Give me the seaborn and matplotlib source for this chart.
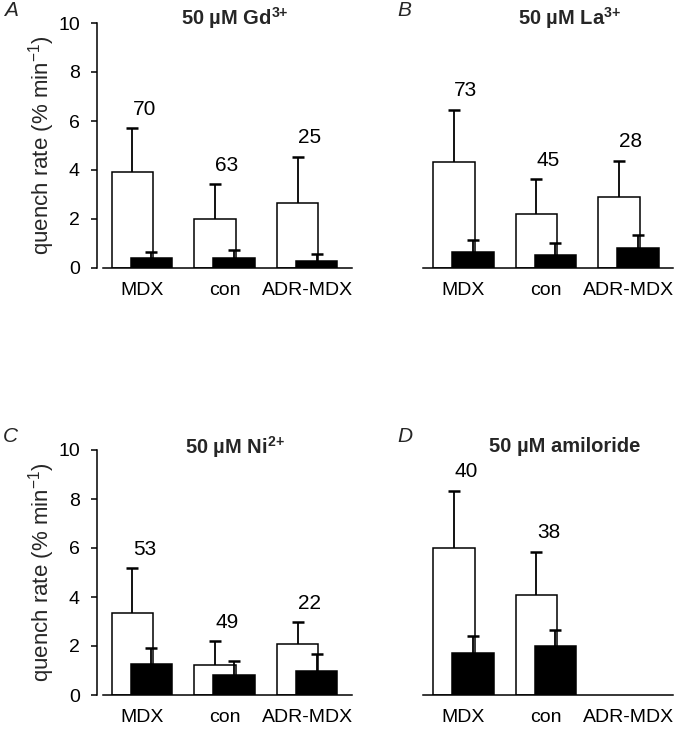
import numpy as np
import matplotlib
matplotlib.use("Agg")
import matplotlib.pyplot as plt
import seaborn as sns

# ---------------- data ----------------
groups = ["MDX", "con", "ADR-MDX"]
panel_letters = ["A", "B", "C", "D"]
panel_titles = [r"50 µM Gd$^{\mathbf{3{+}}}$", r"50 µM La$^{\mathbf{3{+}}}$",
                r"50 µM Ni$^{\mathbf{2{+}}}$", "50 µM amiloride"]

# open bars (mean) and upper error
A_open = [3.90, 2.00, 2.64]
A_open_err = [1.81, 1.42, 1.90]
A_filled = [0.40, 0.40, 0.29]
A_filled_err = [0.27, 0.33, 0.28]
A_n = ["70", "63", "25"]

B_open = [4.31, 2.19, 2.91]
B_open_err = [2.14, 1.44, 1.46]
B_filled = [0.64, 0.53, 0.83]
B_filled_err = [0.50, 0.48, 0.52]
B_n = ["73", "45", "28"]

C_open = [3.35, 1.24, 2.09]
C_open_err = [1.83, 0.95, 0.87]
C_filled = [1.28, 0.83, 1.00]
C_filled_err = [0.62, 0.54, 0.69]
C_n = ["53", "49", "22"]

D_open = [6.00, 4.09, np.nan]
D_open_err = [2.34, 1.75, np.nan]
D_filled = [1.71, 2.02, np.nan]
D_filled_err = [0.71, 0.62, np.nan]
D_n = ["40", "38", ""]

ylabel = r"quench rate (% min$^{-1}$)"
yticks = [0, 2, 4, 6, 8, 10]

# ---------------- style ----------------
sns.set_theme(style="ticks")
plt.rcParams["font.family"] = ["Liberation Sans", "DejaVu Sans"]
plt.rcParams["mathtext.fontset"] = "custom"
plt.rcParams["mathtext.rm"] = "Liberation Sans"
plt.rcParams["mathtext.it"] = "Liberation Sans:italic"
plt.rcParams["mathtext.bf"] = "Liberation Sans:bold"

W, H = 681, 729
fig = plt.figure(figsize=(W / 100, H / 100), dpi=100)
fig.patch.set_facecolor("white")


def fx(px):
    return px / W


def fy(py):
    return 1 - py / H


def make_ax(left, right, top, bottom):
    return fig.add_axes([fx(left), fy(bottom), fx(right) - fx(left), fy(top) - fy(bottom)])


panels = [
    (A_open, A_open_err, A_filled, A_filled_err, A_n),
    (B_open, B_open_err, B_filled, B_filled_err, B_n),
    (C_open, C_open_err, C_filled, C_filled_err, C_n),
    (D_open, D_open_err, D_filled, D_filled_err, D_n),
]

layout = [
    # left, right, top, bottom, xlim, has_yaxis
    (97, 352, 23, 268, (-0.545, 2.545), True),
    (423, 673, 23, 268, (-0.49, 2.54), False),
    (97, 352, 450, 695, (-0.545, 2.545), True),
    (423, 673, 450, 695, (-0.49, 2.54), False),
]
title_pos = [(235, 18), (570, 18), (235, 447), (565, 447)]
letter_pos = [(4, 11), (397, 11), (3, 437), (397, 437)]

off = 0.115
bw = 0.5
lw = 1.1
xc = np.arange(len(groups))


def upper_err(ax, x, y, e, z):
    _, caps, _ = ax.errorbar(x, y, yerr=[np.zeros_like(e), e], fmt="none",
                             ecolor="black", elinewidth=1.3, capsize=4,
                             capthick=1.8, zorder=z)
    caps[0].set_visible(False)


for i, ((op, ope, fi, fie, ns), (l, r, t, b, xl, has_y)) in enumerate(zip(panels, layout)):
    ax = make_ax(l, r, t, b)
    op = np.array(op, float); ope = np.array(ope, float)
    fi = np.array(fi, float); fie = np.array(fie, float)

    sns.barplot(x=xc - off, y=op, native_scale=True, width=bw, color="white",
                edgecolor="black", linewidth=lw, errorbar=None, saturation=1, ax=ax)
    upper_err(ax, xc - off, op, ope, 3)
    sns.barplot(x=xc + off, y=fi, native_scale=True, width=bw, color="black",
                edgecolor="black", linewidth=lw, errorbar=None, saturation=1, ax=ax)
    for p in ax.patches:
        p.set_zorder(2 if p.get_facecolor()[0] > 0.5 else 4)
    upper_err(ax, xc + off, fi, fie, 5)

    for k in range(len(groups)):
        if ns[k]:
            ax.text(xc[k] + 0.03, op[k] + ope[k] + 0.55, ns[k], ha="center",
                    va="baseline", fontsize=15, color="black")

    ax.set_xlim(*xl)
    ax.set_ylim(0, 10)
    ax.set_xticks(xc)
    ax.set_xticklabels(groups, fontsize=14)
    ax.tick_params(axis="x", length=0, pad=10, colors="black")
    ax.set_xlabel("")
    ax.set_ylabel("")
    ax.set_facecolor("white")
    ax.spines["top"].set_visible(False)
    ax.spines["right"].set_visible(False)
    ax.spines["bottom"].set_linewidth(lw)
    ax.spines["bottom"].set_color("black")
    if has_y:
        ax.set_yticks(yticks)
        ax.set_yticklabels([str(v) for v in yticks], fontsize=14)
        ax.tick_params(axis="y", length=4.3, width=lw, pad=8, colors="black")
        ax.spines["left"].set_linewidth(lw)
        ax.spines["left"].set_color("black")
        ax.spines["bottom"].set_bounds(-0.47, xl[1])
    else:
        ax.spines["left"].set_visible(False)
        ax.set_yticks([])

    tx, ty = title_pos[i]
    fig.text(fx(tx), fy(ty), panel_titles[i], ha="center", va="center",
             fontsize=14.5, fontweight="bold")
    lx, ly = letter_pos[i]
    fig.text(fx(lx), fy(ly), panel_letters[i], ha="left", va="center",
             fontsize=15, fontstyle="italic")
    if has_y:
        fig.text(fx(42), fy((t + b) / 2), ylabel, rotation=90, ha="center",
                 va="center", fontsize=16)

fig.savefig("out.png", dpi=100)
